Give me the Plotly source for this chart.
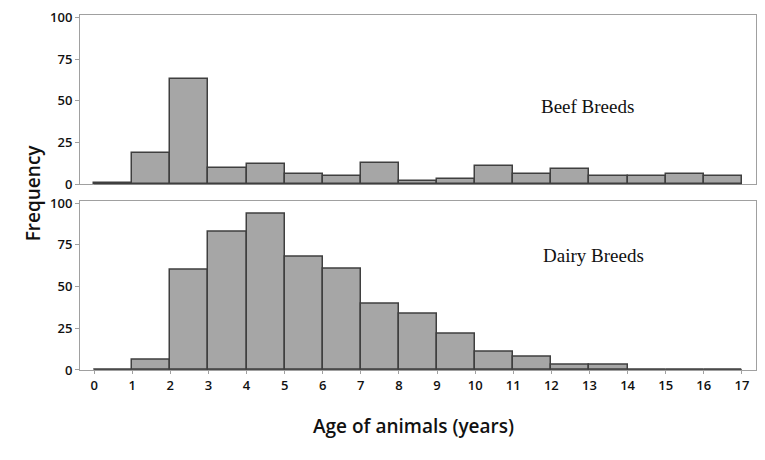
import plotly.graph_objects as go
from plotly.subplots import make_subplots

# histogram bins: ages 0..17 years, one-year wide
bin_edges = list(range(0, 18))
beef_counts = [1, 19, 63, 10, 12, 6, 5, 13, 2, 3, 11, 6, 9, 5, 5, 6, 5]
dairy_counts = [0, 6, 60, 83, 94, 68, 61, 40, 34, 22, 11, 8, 3, 3, 0, 0, 0]
y_ticks = [0, 25, 50, 75, 100]

bin_mids = [(a + b) / 2 for a, b in zip(bin_edges[:-1], bin_edges[1:])]
bin_widths = [b - a for a, b in zip(bin_edges[:-1], bin_edges[1:])]

fill_col = '#a6a6a6'
edge_col = '#3f3f3f'
frame_col = '#a0a0a0'
tick_font = dict(family='Open Sans', size=13, color='#111111', weight=600)

fig = make_subplots(rows=2, cols=1, shared_xaxes=True, vertical_spacing=0.046)

for row, counts in [(1, beef_counts), (2, dairy_counts)]:
    fig.add_trace(go.Bar(
        x=bin_mids, y=counts, width=bin_widths,
        marker=dict(color=fill_col, line=dict(color=edge_col, width=1.5)),
        cliponaxis=False, showlegend=False,
    ), row=row, col=1)
    # baseline so empty bins still show the outline at zero
    fig.add_trace(go.Scatter(
        x=[bin_edges[0], bin_edges[-1]], y=[0, 0], mode='lines',
        line=dict(color=edge_col, width=1.5), cliponaxis=False,
        showlegend=False, hoverinfo='skip',
    ), row=row, col=1)

axis_common = dict(showline=True, mirror=True, linecolor=frame_col, linewidth=1,
                   showgrid=False, zeroline=False, layer='below traces')

fig.update_xaxes(range=[-0.37, 17.37], **axis_common)
fig.update_xaxes(showticklabels=False, ticks='', row=1, col=1)
fig.update_xaxes(tickvals=bin_edges, ticks='outside', ticklen=3, tickcolor=frame_col,
                 tickfont=tick_font, row=2, col=1)
fig.update_yaxes(range=[0, 101.5], tickvals=y_ticks, ticks='outside', ticklen=4,
                 tickcolor=frame_col, tickfont=tick_font, ticklabeloverflow='allow',
                 **axis_common)

fig.add_annotation(x=12.95, y=46.7, xref='x', yref='y', text='Beef Breeds',
                   showarrow=False, font=dict(family='Liberation Serif', size=19, color='#111111'))
fig.add_annotation(x=13.1, y=68.5, xref='x2', yref='y2', text='Dairy Breeds',
                   showarrow=False, font=dict(family='Liberation Serif', size=19, color='#111111'))

fig.add_annotation(x=-0.092, y=0.5, xref='paper', yref='paper', text='Frequency',
                   textangle=-90, showarrow=False,
                   font=dict(family='Open Sans', size=19, color='#111111', weight=600))
fig.add_annotation(x=0.493, y=-0.2, xref='paper', yref='paper',
                   text='Age of animals (years)', showarrow=False,
                   font=dict(family='Open Sans', size=19, color='#111111', weight=600))

# page body adds an 8px offset, so the figure is 8px smaller and the margins shifted
fig.update_layout(
    width=757, height=452,
    margin=dict(l=72, r=9, t=7, b=90, autoexpand=False),
    plot_bgcolor='white', paper_bgcolor='white',
    bargap=0,
)

fig.write_html("out.html")
